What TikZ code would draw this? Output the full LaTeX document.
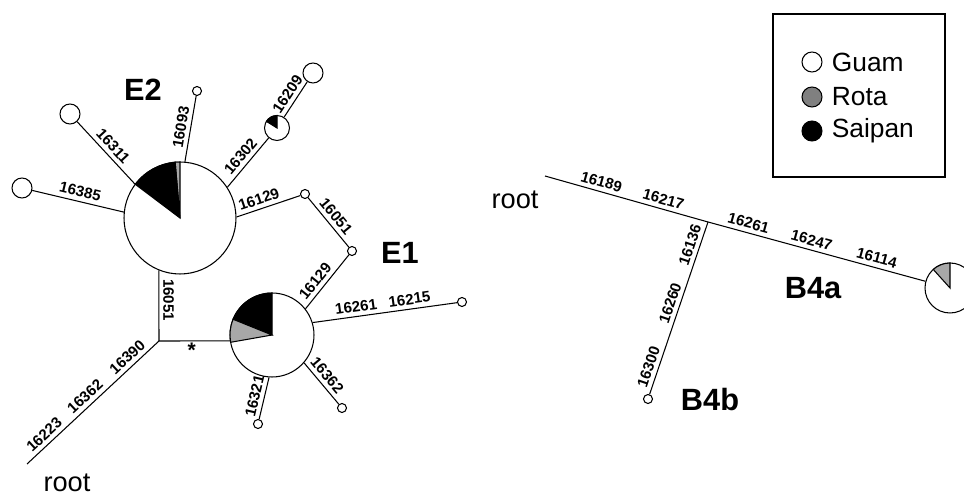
\documentclass[tikz,border=0pt]{standalone}
\usepackage{fontspec}
\setmainfont{Liberation Sans}
\usetikzlibrary{positioning}
\definecolor{piegray}{gray}{0.66}
\definecolor{keygray}{gray}{0.5}

\begin{document}
\begin{tikzpicture}[x=0.02cm,y=-0.02cm,line width=0.6pt]
    \tikzstyle{pie}=[circle,draw,fill=white,inner sep=0pt]
    \tikzstyle{hap}=[pie,minimum size=0.4cm]
    \tikzstyle{tip}=[pie,minimum size=0.18cm]
    \tikzstyle{mut}=[font=\fontsize{8.6}{10}\selectfont\bfseries,sloped,above,inner sep=2.2pt]
    \tikzstyle{clade}=[font=\fontsize{17.5}{20}\selectfont\bfseries]
    \tikzstyle{rootlbl}=[font=\fontsize{15.5}{18}\selectfont]
    \tikzstyle{keytext}=[font=\fontsize{15}{18}\selectfont,inner sep=2pt]
    \useasboundingbox (0,0) rectangle (964,496);

    % haplogroup E network
    \node[pie,minimum size=2.24cm] (E2) at (180,218) {};
    \node[pie,minimum size=1.68cm] (E1) at (272,335) {};
    \node[pie,minimum size=0.5cm] (p16302) at (277,128) {};
    \node[hap] (n16209) at (313,73) {};
    \node[hap] (n16311) at (70,114) {};
    \node[hap] (n16385) at (22,188) {};
    \node[tip] (n16093) at (197,91) {};
    \node[tip] (a16129) at (305,194) {};
    \node[tip] (a16051) at (352,251) {};
    \node[tip] (n16215) at (462,302) {};
    \node[tip] (n16362) at (342,408) {};
    \node[tip] (n16321) at (258,424) {};
    \coordinate (jn) at (159,341);
    \coordinate (rootL) at (27,464);

    \filldraw[fill=piegray] (E2.center) -- ++(90:1.12cm) arc[start angle=90,end angle=95,radius=1.12cm] -- cycle;
    \filldraw[fill=black] (E2.center) -- ++(95:1.12cm) arc[start angle=95,end angle=143,radius=1.12cm] -- cycle;
    \filldraw[fill=black] (E1.center) -- ++(90:0.84cm) arc[start angle=90,end angle=158,radius=0.84cm] -- cycle;
    \filldraw[fill=piegray] (E1.center) -- ++(158:0.84cm) arc[start angle=158,end angle=190,radius=0.84cm] -- cycle;
    \filldraw[fill=black] (p16302.center) -- ++(90:0.25cm) arc[start angle=90,end angle=148,radius=0.25cm] -- cycle;

    \draw (E2.85) -- (n16093) node[mut,midway] {16093};
    \draw (n16311) -- (E2.143) node[mut,midway] {16311};
    \draw (n16385) -- (E2.174) node[mut,midway] {16385};
    \draw (E2.33) -- (p16302) node[mut,midway] {16302};
    \draw (p16302) -- (n16209) node[mut,midway] {16209};
    \draw (E2.1) -- (a16129) node[mut,pos=0.4] {16129};
    \draw (a16129) -- (a16051) node[mut,midway] {16051};
    \draw (E1.38) -- (a16051) node[mut,pos=0.4] {16129};
    \draw (E1.17) -- (n16215) node[mut,pos=0.31] {16261} node[mut,pos=0.68] {16215};
    \draw (E1.-41) -- (n16362) node[mut,pos=0.45] {16362};
    \draw (E1.-94) -- (n16321) node[mut,midway] {16321};
    \draw (jn) -- (E2.248) node[mut,pos=0.58] {16051};
    \draw (jn) -- (E1.188) node[mut,below,pos=0.46,font=\fontsize{12}{12}\selectfont\bfseries,inner sep=1pt] {*};
    \draw (rootL) -- (jn) node[mut,pos=0.18] {16223} node[mut,pos=0.49] {16362} node[mut,pos=0.81] {16390};

    \node[clade] (lE2) at (143,90) {E2};
    \node[clade] (lE1) at (400,253) {E1};
    \node[rootlbl] (lrootL) at (67,483) {root};

    % haplogroup B4 branch
    \coordinate (rootR) at (545,176);
    \coordinate (jb) at (708,222);
    \node[pie,minimum size=1cm] (B4a) at (950,288) {};
    \node[tip] (n16300) at (648,399) {};
    \filldraw[fill=piegray] (B4a.center) -- ++(90:0.5cm) arc[start angle=90,end angle=132,radius=0.5cm] -- cycle;

    \draw (rootR) -- (jb) node[mut,pos=0.33] {16189} node[mut,pos=0.71] {16217};
    \draw (jb) -- (B4a) node[mut,pos=0.175] {16261} node[mut,pos=0.465] {16247} node[mut,pos=0.765] {16114};
    \draw (n16300) -- (jb) node[mut,pos=0.14] {16300} node[mut,pos=0.51] {16260} node[mut,pos=0.85] {16136};

    \node[rootlbl] (lrootR) at (515,200) {root};
    \node[clade] (lB4a) at (813,288) {B4a};
    \node[clade] (lB4b) at (710,400) {B4b};

    % key
    \node[draw,line width=1.4pt,minimum width=3.44cm,minimum height=3.26cm] (keybox) at (859,95.5) {};
    \node[hap] (kguam) at (812,62) {};
    \node[hap,fill=keygray] (krota) at (812,97) {};
    \node[hap,fill=black] (ksaipan) at (812,131) {};
    \node[keytext,right=3pt of kguam] {Guam};
    \node[keytext,right=3pt of krota] {Rota};
    \node[keytext,right=3pt of ksaipan] {Saipan};
\end{tikzpicture}
\end{document}
